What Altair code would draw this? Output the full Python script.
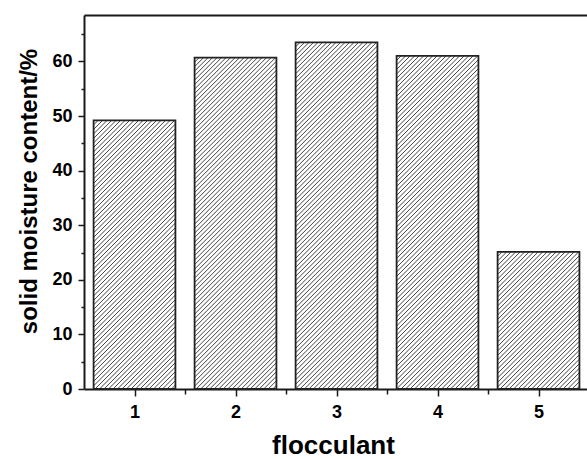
import altair as alt
import pandas as pd

# ---- data ----
categories = [1, 2, 3, 4, 5]
moisture = [49.2, 60.7, 63.5, 61.0, 25.1]
x_major = [1, 2, 3, 4, 5]
x_minor = [1.5, 2.5, 3.5, 4.5]
y_major = [0, 10, 20, 30, 40, 50, 60]
y_minor = [5, 15, 25, 35, 45, 55, 65]

# ---- layout ----
W, H = 503, 374
XDOM = [0.5, 5.48]
YDOM = [0, 68.5]
BAR_HALF = 0.405
FONT = "Liberation Sans"
INK = "#1a1a1a"

df = pd.DataFrame({"flocculant": categories, "moisture": moisture})

# hatch ("/" at 45 deg in pixel space) derived from bar values
px_x = W / (XDOM[1] - XDOM[0])
px_y = H / (YDOM[1] - YDOM[0])
step = 4.5
rows = []
for c_val, m in zip(categories, moisture):
    xl = (c_val - BAR_HALF - XDOM[0]) * px_x
    xr = (c_val + BAR_HALF - XDOM[0]) * px_x
    h = m * px_y
    c = xl - h
    while c < xr:
        t0 = max(0.0, xl - c)
        t1 = min(h, xr - c)
        if t1 - t0 > 0.3:
            rows.append({
                "hx": (c + t0) / px_x + XDOM[0], "hy": t0 / px_y,
                "hx2": (c + t1) / px_x + XDOM[0], "hy2": t1 / px_y,
            })
        c += step
hatch = pd.DataFrame(rows)

xs = alt.Scale(domain=XDOM, nice=False, zero=False)
ys = alt.Scale(domain=YDOM, nice=False, zero=False)

base = alt.Chart(df).transform_calculate(
    x0=f"datum.flocculant - {BAR_HALF}", x1=f"datum.flocculant + {BAR_HALF}"
)

axis_style = dict(
    domainColor=INK, domainWidth=2, tickColor=INK, tickWidth=1.5,
    titleFont=FONT, titleFontWeight="bold", titleColor="black", grid=False,
    labelFont=FONT, labelFontWeight="bold", labelFontSize=18, labelColor="black",
)

bars_fill = base.mark_rect(fill="white", stroke=None).encode(
    x=alt.X("x0:Q", scale=xs, axis=alt.Axis(
        orient="bottom", values=x_major, tickSize=7, labelPadding=21,
        labelBaseline="alphabetic", format="d", title="flocculant",
        titleFontSize=26, titleX=249, titleY=64, titleBaseline="alphabetic",
        titleAnchor="middle", **axis_style)),
    x2="x1:Q",
    y=alt.Y("moisture:Q", scale=ys, axis=alt.Axis(
        orient="left", values=y_major, tickSize=6, labelPadding=6, format="d",
        title="solid moisture content/%", titleFontSize=24, titleAngle=270,
        titleX=-48, titleY=176, titleBaseline="alphabetic", titleAlign="center",
        **axis_style)),
    y2=alt.datum(0),
)

hatch_layer = alt.Chart(hatch).mark_rule(color="#444444", strokeWidth=1).encode(
    x=alt.X("hx:Q", scale=xs, axis=None), x2="hx2:Q",
    y=alt.Y("hy:Q", scale=ys, axis=None), y2="hy2:Q",
)

bars_outline = base.mark_rect(fill=None, stroke="#222222", strokeWidth=1.8).encode(
    x=alt.X("x0:Q", scale=xs, axis=None), x2="x1:Q",
    y=alt.Y("moisture:Q", scale=ys, axis=None), y2=alt.datum(0),
)

minor = alt.Chart(df).mark_point(opacity=0).encode(
    x=alt.X("flocculant:Q", scale=xs, axis=alt.Axis(
        orient="bottom", values=x_minor, tickSize=5, labels=False, domain=False,
        title=None, ticks=True, tickColor=INK, tickWidth=1.5, grid=False)),
    y=alt.Y("moisture:Q", scale=ys, axis=alt.Axis(
        orient="left", values=y_minor, tickSize=3, labels=False, domain=False,
        title=None, ticks=True, tickColor=INK, tickWidth=1.5, grid=False)),
)

top = alt.Chart(df).mark_point(opacity=0).encode(
    x=alt.X("flocculant:Q", scale=xs, axis=alt.Axis(
        orient="top", labels=False, ticks=False, title=None, domain=True,
        domainColor=INK, domainWidth=2, grid=False)),
)

chart = alt.layer(bars_fill, hatch_layer, bars_outline, minor, top).resolve_axis(
    x="independent", y="independent"
).properties(
    width=W, height=H,
    padding={"left": 84, "top": 15, "right": 0, "bottom": 70},
    autosize="none", background="white",
).configure_view(stroke=None)

chart.save("out.html", embed_options={"renderer": "svg", "actions": False})
